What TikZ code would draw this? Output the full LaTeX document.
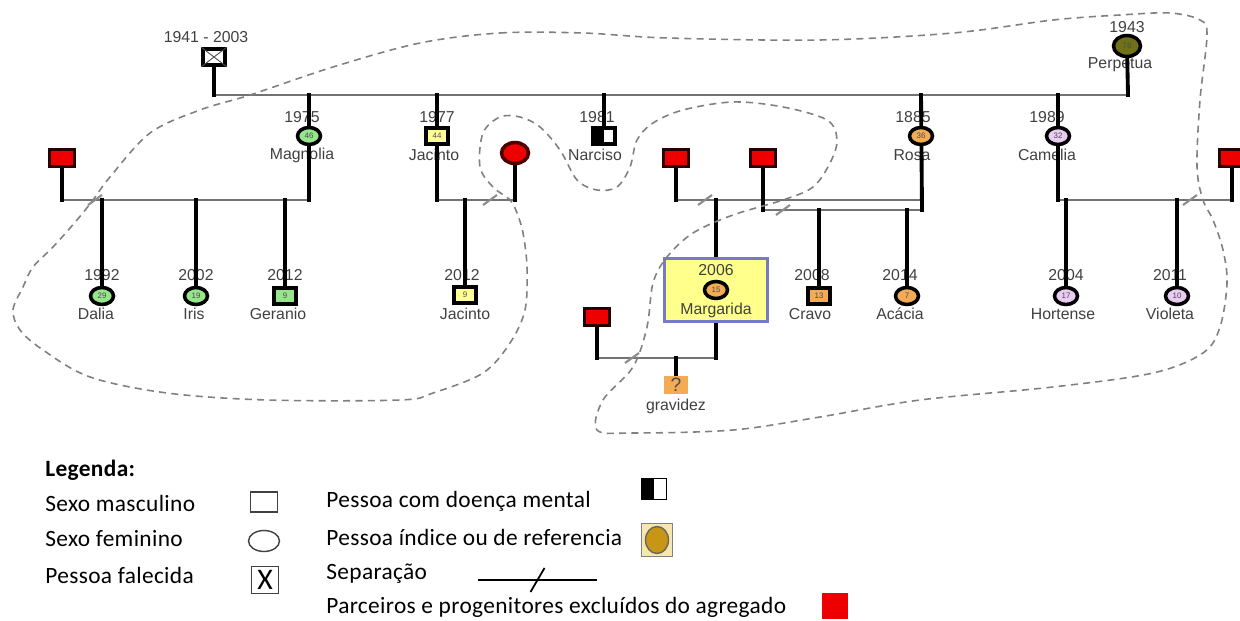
\documentclass[tikz,border=0pt]{standalone}
\usepackage{fontspec}
\setmainfont{Liberation Sans}
\newfontfamily\legendfont[LetterSpace=1.5]{Carlito}
\usetikzlibrary{shapes.geometric,positioning,calc}

\definecolor{leafgreen}{RGB}{150,228,140}
\definecolor{paleyellow}{RGB}{255,255,150}
\definecolor{apricot}{RGB}{243,172,85}
\definecolor{lilac}{RGB}{232,204,242}
\definecolor{perpolive}{RGB}{112,112,24}
\definecolor{outred}{RGB}{238,0,0}
\definecolor{boxyellow}{RGB}{255,255,140}
\definecolor{boxblue}{RGB}{120,120,200}
\definecolor{indexgold}{RGB}{200,150,20}
\definecolor{indexbeige}{RGB}{248,230,175}

\pgfdeclarelayer{names}
\pgfdeclarelayer{lines}
\pgfsetlayers{names,lines,main}

\begin{document}
\begin{tikzpicture}[
  x=0.02cm, y=-0.02cm,
  font=\fontsize{9}{10}\selectfont,
  person/.style={line width=2pt, draw=black, inner sep=0pt, font=\fontsize{4.5}{5}\selectfont, text=black!70},
  male/.style={person, rectangle, minimum width=0.44cm, minimum height=0.32cm},
  female/.style={person, ellipse, minimum width=0.46cm, minimum height=0.34cm},
  outsider/.style={person, rectangle, fill=outred, draw=black!85!red, minimum width=0.5cm, minimum height=0.34cm},
  yr/.style={text=black!75, inner sep=1pt},
  nm/.style={text=black!75, inner sep=1pt},
  kin/.style={line width=2.2pt, black, line cap=rect},
  bond/.style={line width=1.6pt, black!55},
  sepmark/.style={line width=1.2pt, black!45},
  household/.style={gray, line width=0.9pt, dash pattern=on 4pt off 3pt},
  legtext/.style={font=\legendfont\fontsize{13.3}{15}\selectfont, anchor=west, inner sep=0pt},
  legicon/.style={draw=black!75, line width=0.8pt, inner sep=0pt}
]
\useasboundingbox (0,0) rectangle (1240,621);

% grandparents and their children
\node[male] (dad) at (214,57) {};
\draw[line width=0.5pt, black!70] (dad.north west) -- (dad.south east) (dad.south west) -- (dad.north east);
\node[female, fill=perpolive, minimum width=0.54cm, minimum height=0.42cm] (perp) at (1127,46) {78};
\node[female, fill=leafgreen] (mag) at (309,136) {46};
\node[male, fill=paleyellow] (jac) at (437,136) {44};
\node[male, fill=white, path picture={\fill[black] (path picture bounding box.south west) rectangle (path picture bounding box.north);}] (nar) at (604,136) {};
\node[female, fill=apricot] (rosa) at (921,136) {36};
\node[female, fill=lilac] (cam) at (1058,136) {32};

% partners outside the household
\node[outsider] (pmag) at (62,158) {};
\node[person, ellipse, fill=outred, draw=black!70!red, minimum width=0.54cm, minimum height=0.42cm] (pjac) at (515,153) {};
\node[outsider] (prosa1) at (676,158) {};
\node[outsider] (prosa2) at (763,158) {};
\node[outsider] (pcam) at (1232,158) {};
\node[outsider] (pmarg) at (597,317) {};

% grandchildren
\node[female, fill=leafgreen] (dalia) at (102,296) {29};
\node[female, fill=leafgreen] (iris) at (196,296) {19};
\node[male, fill=leafgreen] (ger) at (285,296) {9};
\node[male, fill=paleyellow] (jac2) at (465,295) {9};
\node[male, fill=apricot] (cravo) at (819,296) {13};
\node[female, fill=apricot] (acacia) at (907,296) {7};
\node[female, fill=lilac] (hort) at (1066,296) {17};
\node[female, fill=lilac] (viol) at (1177,296) {10};

% index person
\node[draw=boxblue, line width=1.5pt, fill=boxyellow, minimum width=2.06cm, minimum height=1.26cm] (margbox) at (716,290) {};
\node[female, fill=apricot] (marg) at (716,290) {15};
\node[yr] (margY) at (716,270) {2006};
\node[nm] (margN) at (716,310) {Margarida};

\node[fill=apricot, minimum width=0.48cm, minimum height=0.36cm, inner sep=0pt, font=\fontsize{11}{11}\selectfont, text=black!70] (preg) at (676,385) {?};
\node[nm] (pregN) at (676,406) {gravidez};

\begin{pgfonlayer}{names}
\node[yr] (dadY) at (206,37) {1941 - 2003};
\node[yr] (perpY) at (1127,27) {1943};
\node[nm] (perpN) at (1120,65) {Perpetua};
\node[yr] (magY) at (302,117) {1975};
\node[nm] (magN) at (302,155) {Magnolia};
\node[yr] (jacY) at (437,117) {1977};
\node[nm] (jacN) at (434,155) {Jacinto};
\node[yr] (narY) at (597,117) {1981};
\node[nm] (narN) at (595,155) {Narciso};
\node[yr] (rosaY) at (913,117) {1885};
\node[nm] (rosaN) at (912,155) {Rosa};
\node[yr] (camY) at (1047,117) {1989};
\node[nm] (camN) at (1047,155) {Camelia};
\node[yr] (daliaY) at (102,275) {1992};
\node[nm] (daliaN) at (96,314) {Dalia};
\node[yr] (irisY) at (196,275) {2002};
\node[nm] (irisN) at (194,314) {Iris};
\node[yr] (gerY) at (285,275) {2012};
\node[nm] (gerN) at (278,314) {Geranio};
\node[yr] (jac2Y) at (462,275) {2012};
\node[nm] (jac2N) at (465,314) {Jacinto};
\node[yr] (cravoY) at (812,275) {2008};
\node[nm] (cravoN) at (810,314) {Cravo};
\node[yr] (acaciaY) at (900,275) {2014};
\node[nm] (acaciaN) at (900,314) {Acácia};
\node[yr] (hortY) at (1066,275) {2004};
\node[nm] (hortN) at (1063,314) {Hortense};
\node[yr] (violY) at (1170,275) {2011};
\node[nm] (violN) at (1170,314) {Violeta};
\end{pgfonlayer}

\begin{pgfonlayer}{lines}
% grandparents
\coordinate (topL) at (214,95);
\coordinate (topR) at (1128,95);
\draw[bond] (topL) -- (topR);
\draw[kin] (dad) -- (topL);
\draw[kin] (perp) -- (topR);
\draw[kin] (nar |- topL) -- (nar);
% Magnolia
\coordinate (magL) at (62,200);
\coordinate (magR) at (309,200);
\draw[bond] (magL) -- (magR);
\draw[kin] (pmag) -- (magL);
\draw[kin] (mag |- topL) -- (magR);
\foreach \c in {dalia,iris,ger} \draw[kin] (\c |- magR) -- (\c);
% Jacinto
\coordinate (jacL) at (437,200);
\coordinate (jacR) at (515,200);
\draw[bond] (jacL) -- (jacR);
\draw[kin] (jac |- topL) -- (jacL);
\draw[kin] (pjac) -- (jacR);
\draw[kin] (jac2 |- jacL) -- (jac2);
% Rosa, two unions
\coordinate (rosaA) at (676,200);
\coordinate (rosaB) at (922,200);
\coordinate (rosaC) at (763,210);
\coordinate (rosaD) at (922,210);
\draw[bond] (rosaA) -- (rosaB);
\draw[bond] (rosaC) -- (rosaD);
\draw[kin] (rosa |- topL) -- (rosaD);
\draw[kin] (prosa1) -- (rosaA);
\draw[kin] (prosa2) -- (rosaC);
\draw[kin] (margbox |- rosaA) -- (margbox);
\foreach \c in {cravo,acacia} \draw[kin] (\c |- rosaC) -- (\c);
% Camelia
\coordinate (camL) at (1058,200);
\coordinate (camR) at (1232,200);
\draw[bond] (camL) -- (camR);
\draw[kin] (cam |- topL) -- (camL);
\draw[kin] (pcam) -- (camR);
\foreach \c in {hort,viol} \draw[kin] (\c |- camL) -- (\c);
% Margarida
\coordinate (margL) at (597,358);
\coordinate (margR) at (716,358);
\draw[bond] (margL) -- (margR);
\draw[kin] (pmarg) -- (margL);
\draw[kin] (margbox) -- (margR);
\draw[kin] (preg |- margL) -- (preg);
% separations
\foreach \x/\y in {95/200,490/200,705/200,783/210,1190/200,632/358}
  \draw[sepmark] (\x-7,\y+5) -- (\x+7,\y-5);
\end{pgfonlayer}

% household
\draw[household] plot[smooth cycle, tension=0.55] coordinates {
  (420,43) (500,33) (583,33) (667,38) (820,40) (953,33) (1053,20) (1120,15)
  (1170,13) (1200,20) (1207,35) (1200,100) (1197,167) (1203,200) (1213,220)
  (1223,250) (1227,283) (1220,327) (1203,353) (1153,373) (1053,387) (920,400)
  (820,417) (733,430) (633,433) (597,430) (603,400) (633,367) (647,327)
  (653,283) (667,257) (693,233) (733,215) (783,200) (813,187) (830,163)
  (837,140) (827,120) (783,107) (733,102) (683,110) (653,123) (637,140)
  (630,167) (617,187) (597,190) (577,180) (560,150) (540,127) (520,117)
  (500,117) (483,133) (480,167) (493,187) (510,200) (517,213) (523,233)
  (527,267) (525,310) (510,343) (483,373) (433,393) (400,400) (267,400)
  (167,393) (90,377) (43,350) (20,330) (13,310) (23,287) (33,267) (53,247)
  (77,220) (93,200) (110,177) (150,133) (200,110) (250,95) (333,67)};

% legend
\node[legtext, font=\legendfont\bfseries\fontsize{13.3}{15}\selectfont] (leghd) at (45,470) {Legenda:};
\node[legtext] (lmale) at (45,503) {Sexo masculino};
\node[legtext] (lfem) at (45,539) {Sexo feminino};
\node[legtext] (ldead) at (45,575) {Pessoa falecida};
\node[legtext] (lmental) at (326,501) {Pessoa com doença mental};
\node[legtext] (lindex) at (326,537) {Pessoa índice ou de referencia};
\node[legtext] (lsep) at (326,574) {Separação};
\node[legtext] (lout) at (326,607) {Parceiros e progenitores excluídos do agregado};

\node[legicon, minimum width=0.54cm, minimum height=0.4cm] (kmale) at (264,502) {};
\node[legicon, ellipse, minimum width=0.62cm, minimum height=0.42cm] (kfem) at (264,541) {};
\node[legicon, minimum width=0.54cm, minimum height=0.54cm, font=\legendfont\fontsize{17}{17}\selectfont] (kdead) at (265,580) {X};
\node[legicon, draw=black, minimum width=0.5cm, minimum height=0.42cm, path picture={\fill[black] (path picture bounding box.south west) rectangle (path picture bounding box.north);}] (kmental) at (654,489) {};
\node[legicon, draw=black!50, fill=indexbeige, minimum width=0.62cm, minimum height=0.66cm] (kindex) at (657,540) {};
\node[legicon, draw=black!60, ellipse, fill=indexgold, minimum width=0.46cm, minimum height=0.54cm] (kindexc) at (kindex) {};
\coordinate (ksepL) at (478,580);
\coordinate (ksepR) at (597,580);
\draw[line width=1.2pt] (ksepL) -- (ksepR);
\draw[line width=1pt] ($(ksepL)!0.5!(ksepR)+(-7,12)$) -- ++(14,-24);
\node[fill=outred, minimum size=0.52cm, inner sep=0pt] (kout) at (835,606) {};
\end{tikzpicture}
\end{document}
